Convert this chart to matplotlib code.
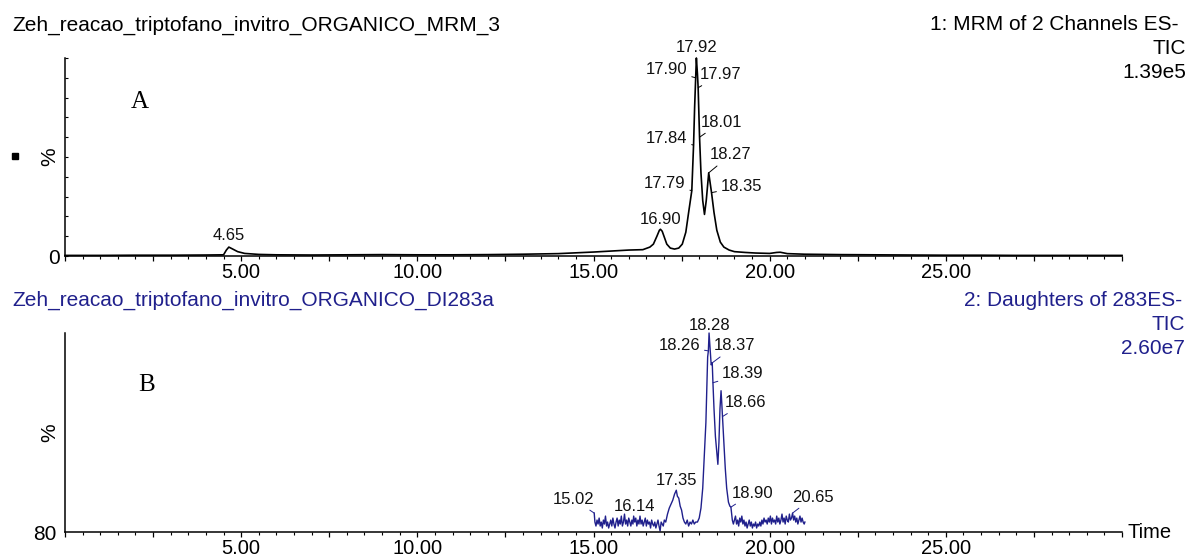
import matplotlib.pyplot as plt
import numpy as np
from matplotlib.patches import Rectangle
from matplotlib.ticker import FixedLocator, MultipleLocator, FuncFormatter

plt.rcParams['font.family'] = ['Liberation Sans', 'DejaVu Sans']

# trace A: MRM of 2 channels ES-, TIC (time in min, relative intensity %)
time_a = [0.0, 1.0, 2.0, 3.0, 4.0, 4.5, 4.58, 4.65, 4.75, 4.9, 5.1, 5.5, 6.0, 7.0, 8.0,
          9.0, 10.0, 11.0, 12.0, 13.0, 14.0, 14.5, 15.0, 15.5, 16.0, 16.4, 16.6, 16.7,
          16.8, 16.87, 16.90, 16.95, 17.0, 17.08, 17.18, 17.30, 17.42, 17.52, 17.62,
          17.70, 17.79, 17.84, 17.87, 17.90, 17.92, 17.95, 17.97, 18.01, 18.05, 18.10,
          18.15, 18.20, 18.27, 18.31, 18.35, 18.42, 18.50, 18.60, 18.70, 18.85, 19.0,
          19.3, 19.6, 20.0, 20.2, 20.3, 20.5, 21.0, 22.0, 23.0, 24.0, 25.0, 26.0, 27.0,
          28.0, 29.0, 30.0]
int_a = [0.3, 0.3, 0.4, 0.4, 0.5, 0.6, 3.0, 4.5, 3.6, 2.2, 1.3, 0.8, 0.6, 0.5, 0.6,
         0.7, 0.6, 0.6, 0.7, 0.9, 1.2, 1.6, 2.0, 2.5, 3.0, 3.2, 4.5, 6.0,
         10.0, 13.0, 13.5, 12.5, 10.0, 6.0, 4.0, 3.5, 4.0, 6.0, 12.0,
         22.0, 33.0, 56.0, 75.0, 90.0, 100.0, 92.0, 85.0, 60.0, 42.0, 28.0,
         21.0, 28.0, 42.0, 37.0, 32.0, 22.0, 13.0, 7.0, 4.5, 3.0, 2.2,
         1.8, 1.5, 1.3, 1.8, 1.9, 1.2, 0.9, 0.7, 0.6, 0.5, 0.4, 0.4, 0.3,
         0.3, 0.3, 0.3]
peaks_a = ['4.65', '16.90', '17.79', '17.84', '17.90', '17.92', '17.97', '18.01',
           '18.27', '18.35']

# trace B: daughters of 283 ES-, TIC
time_b = [15.02, 15.04, 15.07, 15.10, 15.13, 15.16, 15.19, 15.22, 15.25, 15.28, 15.31,
          15.34, 15.37, 15.40, 15.43, 15.46, 15.49, 15.52, 15.55, 15.58, 15.61, 15.64,
          15.67, 15.70, 15.73, 15.76, 15.79, 15.82, 15.85, 15.88, 15.91, 15.94, 15.97,
          16.00, 16.03, 16.06, 16.09, 16.12, 16.14, 16.17, 16.20, 16.23, 16.26, 16.29,
          16.32, 16.35, 16.38, 16.41, 16.44, 16.47, 16.50, 16.53, 16.56, 16.59, 16.62,
          16.65, 16.68, 16.71, 16.74, 16.77, 16.80, 16.83, 16.86, 16.89, 16.92, 16.95,
          16.98, 17.01, 17.05, 17.10, 17.15, 17.20, 17.25, 17.30, 17.35, 17.38, 17.42,
          17.46, 17.50, 17.54, 17.58, 17.62, 17.66, 17.70, 17.74, 17.78, 17.82, 17.86,
          17.90, 17.95, 18.00, 18.05, 18.10, 18.15, 18.19, 18.22, 18.24, 18.26, 18.28,
          18.31, 18.34, 18.37, 18.39, 18.42, 18.46, 18.50, 18.53, 18.56, 18.59, 18.62,
          18.64, 18.66, 18.70, 18.74, 18.78, 18.83, 18.87, 18.90, 18.94, 18.97, 19.00,
          19.03, 19.06, 19.09, 19.12, 19.15, 19.18, 19.21, 19.24, 19.27, 19.30, 19.33,
          19.36, 19.39, 19.42, 19.45, 19.48, 19.51, 19.54, 19.57, 19.60, 19.63, 19.66,
          19.69, 19.72, 19.75, 19.78, 19.81, 19.84, 19.87, 19.90, 19.93, 19.96, 19.99,
          20.02, 20.05, 20.08, 20.11, 20.14, 20.17, 20.20, 20.23, 20.26, 20.29, 20.32,
          20.35, 20.38, 20.41, 20.44, 20.47, 20.50, 20.53, 20.56, 20.59, 20.62, 20.65,
          20.68, 20.71, 20.74, 20.77, 20.80, 20.83, 20.86, 20.89, 20.92, 20.95, 20.98,
          21.00]
int_b = [9.5, 5, 3, 6, 4, 7, 3, 5, 2, 6, 4,
         8, 3, 5, 2, 4, 6, 3, 7, 4, 2, 5,
         7, 3, 6, 4, 8, 3, 5, 9, 4, 6, 3,
         7, 5, 3, 6, 4, 8, 5, 7, 3, 6, 4,
         8, 4, 6, 3, 5, 7, 3, 6, 4, 5, 2,
         6, 4, 3, 5, 2, 4, 6, 3, 0.5, 5, 4,
         3, 6, 5, 9, 12, 14, 16, 19, 21, 18, 17,
         13, 11, 7, 5, 4, 6, 3, 5, 4, 6, 4,
         5, 5, 7, 12, 22, 40, 55, 75, 88, 91, 100,
         92, 84, 85, 75, 62, 48, 40, 34, 45, 62, 71,
         65, 58, 45, 32, 22, 15, 13, 12.5, 6, 4, 6,
         8, 4, 6, 3, 7, 5, 8, 4, 6, 3, 5,
         2, 4, 6, 3, 5, 2, 4, 3, 5, 2, 4,
         3, 5, 3, 6, 4, 7, 5, 6, 4, 7, 5,
         8, 4, 7, 5, 6, 4, 8, 5, 7, 4, 6,
         9, 5, 7, 4, 8, 6, 5, 9, 6, 7, 9.5,
         6, 8, 5, 7, 4, 6, 8, 5, 7, 5, 4,
         5]
peaks_b = ['15.02', '16.14', '17.35', '18.26', '18.28', '18.37', '18.39', '18.66',
           '18.90', '20.65']

xtick_major = [2.5 * i for i in range(13)]
navy = '#20208c'

W, H = 1189, 557
fig = plt.figure(figsize=(W / 100, H / 100), dpi=100)


def add_panel(x0, y0, x1, y1):
    ax = fig.add_axes([x0 / W, 1 - y1 / H, (x1 - x0) / W, (y1 - y0) / H])
    for s in ('top', 'right'):
        ax.spines[s].set_visible(False)
    for s in ('left', 'bottom'):
        ax.spines[s].set_linewidth(1.1)
    ax.set_xlim(0, 30)
    ax.set_ylim(0, 100)
    ax.xaxis.set_major_locator(FixedLocator(xtick_major))
    ax.xaxis.set_minor_locator(MultipleLocator(0.5))
    ax.xaxis.set_major_formatter(FuncFormatter(
        lambda v, p: '%.2f' % v if 0 < v < 30 and v % 5 == 0 else ''))
    ax.tick_params(axis='x', which='major', length=3.8, width=0.9, pad=1.5,
                   labelsize=14.5)
    ax.tick_params(axis='x', which='minor', length=2.0, width=0.8)
    ax.text(-0.014, 0.5, '%', rotation=90, ha='center', va='center',
            fontsize=15, transform=ax.transAxes)
    return ax


# offsets of peak labels in pixels: (dx, dy, ha, leader line)
where_a = [(0, 12, 'center', False), (0, 10, 'center', False), (-6, 7, 'right', True),
           (-6, 7, 'right', True), (-8, 8, 'right', True), (0, 11, 'center', False),
           (2, 13, 'left', True), (1, 15, 'left', True), (1, 18, 'left', True),
           (9, 6, 'left', True)]
where_b = [(0, 14, 'right', True), (1, 10, 'center', False), (0, 10, 'center', False),
           (-8, 5, 'right', True), (0, 8, 'center', False), (2, 17, 'left', True),
           (9, 9, 'left', True), (2, 14, 'left', True), (1, 14, 'left', True),
           (0, 16, 'left', True)]


def label_peaks(ax, t, y, peaks, where, col):
    for p, (dx, dy, ha, lead) in zip(peaks, where):
        tp = float(p)
        yp = np.interp(tp, t, y)
        arrow = None
        if lead:
            arrow = dict(arrowstyle='-', lw=0.7, color=col, shrinkA=1, shrinkB=0)
        ax.annotate(p, (tp, yp), xytext=(dx, dy), textcoords='offset pixels',
                    ha=ha, va='center', fontsize=12, color='#111111',
                    arrowprops=arrow)


# panel A
ax_a = add_panel(65, 58, 1122, 256)
ax_a.plot(time_a, int_a, color='black', lw=1.2, clip_on=False)
ax_a.set_yticks([0])
ax_a.set_yticklabels(['0'])
ax_a.yaxis.set_minor_locator(FixedLocator([10 * i for i in range(1, 11)]))
ax_a.tick_params(axis='y', which='both', direction='in', length=2.5, width=0.8,
                 labelsize=15, pad=4)
label_peaks(ax_a, time_a, int_a, peaks_a, where_a, 'black')
fig.text(140 / W, 1 - 102 / H, 'A', family='Liberation Serif', fontsize=18,
         ha='center', va='center')

# panel B
ax_b = add_panel(65, 333, 1122, 532)
ax_b.plot(time_b, int_b, color=navy, lw=1.0, clip_on=False)
ax_b.set_yticks([0])
ax_b.set_yticklabels(['80'])
ax_b.tick_params(axis='y', length=0, labelsize=15, pad=6)
label_peaks(ax_b, time_b, int_b, peaks_b, where_b, navy)
fig.text(147 / W, 1 - 385 / H, 'B', family='Liberation Serif', fontsize=18,
         ha='center', va='center')
ax_b.text(1128 / W, 1 - 532 / H, 'Time', fontsize=14.5, ha='left', va='center',
          transform=fig.transFigure)

# headers
fig.text(12 / W, 1 - 25 / H, 'Zeh_reacao_triptofano_invitro_ORGANICO_MRM_3',
         fontsize=15, ha='left', va='center')
fig.text(1178 / W, 1 - 25 / H, '1: MRM of 2 Channels ES-', fontsize=15,
         ha='right', va='center')
fig.text(1186 / W, 1 - 48.5 / H, 'TIC', fontsize=15, ha='right', va='center')
fig.text(1186 / W, 1 - 72 / H, '1.39e5', fontsize=15, ha='right', va='center')

fig.text(12 / W, 1 - 300 / H, 'Zeh_reacao_triptofano_invitro_ORGANICO_DI283a',
         fontsize=15, ha='left', va='center', color=navy)
fig.text(1182 / W, 1 - 301 / H, '2: Daughters of 283ES-', fontsize=15,
         ha='right', va='center', color=navy)
fig.text(1185 / W, 1 - 324 / H, 'TIC', fontsize=15, ha='right', va='center',
         color=navy)
fig.text(1185 / W, 1 - 348 / H, '2.60e7', fontsize=15, ha='right', va='center',
         color=navy)

# small marker left of panel A
fig.add_artist(Rectangle((12 / W, 1 - 159 / H), 6 / W, 6 / H,
                         transform=fig.transFigure, color='black'))

fig.savefig('out.png', dpi=100)
